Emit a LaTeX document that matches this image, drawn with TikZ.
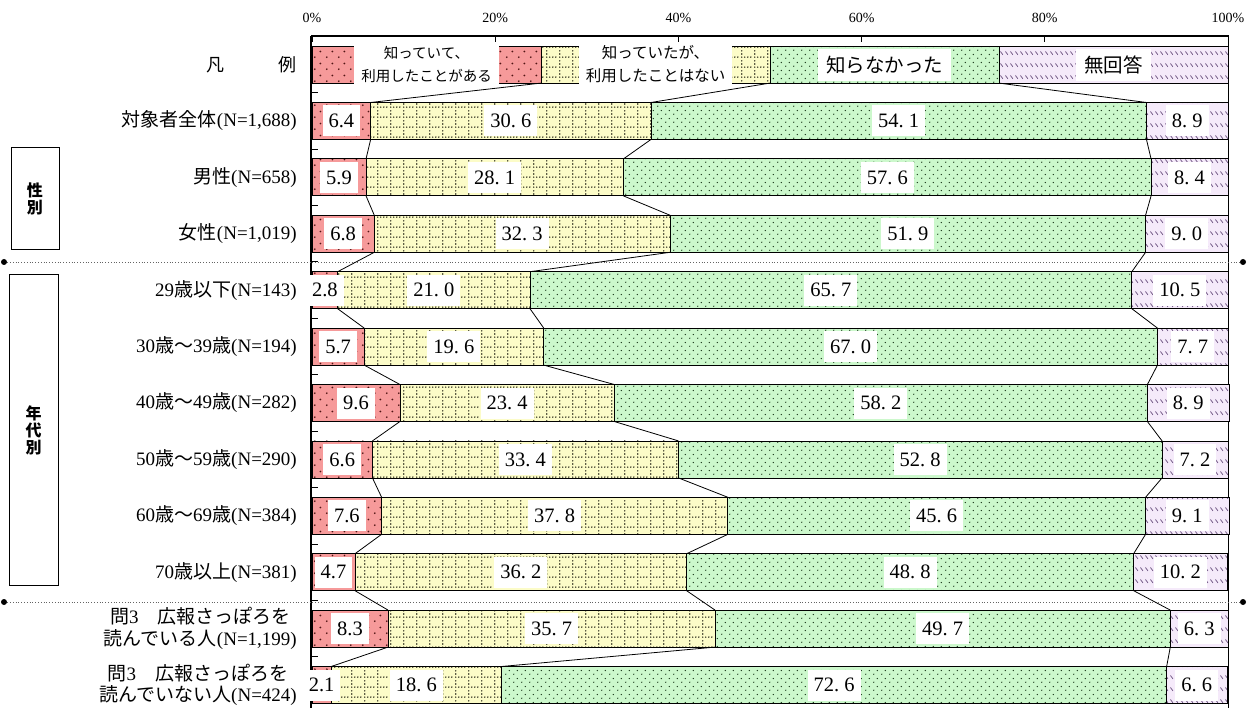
\documentclass[tikz,border=0pt]{standalone}
\usepackage{fontspec}
\setmainfont{Liberation Serif}
\newfontfamily\jp{Noto Sans CJK JP}
\usetikzlibrary{patterns.meta}

\definecolor{redfill}{RGB}{246,154,154}
\definecolor{reddot}{RGB}{80,20,20}
\definecolor{yelfill}{RGB}{252,252,200}
\definecolor{yeldot}{RGB}{35,35,20}
\definecolor{grnfill}{RGB}{204,248,204}
\definecolor{grndot}{RGB}{20,50,20}
\definecolor{lavfill}{RGB}{245,234,250}
\definecolor{lavline}{RGB}{110,85,130}
\definecolor{sepgray}{RGB}{100,100,100}

\tikzdeclarepattern{name=reddots,type=uncolored,
  bottom left={(0pt,0pt)},top right={(12pt,12pt)},tile size={(12pt,12pt)},
  code={\fill (3pt,3pt) circle (1pt); \fill (9pt,9pt) circle (1pt);}}
\tikzdeclarepattern{name=griddots,type=uncolored,
  bottom left={(0pt,0pt)},top right={(13pt,10pt)},tile size={(13pt,10pt)},
  code={\fill (0.8pt,1pt) circle (0.85pt); \fill (4.05pt,1pt) circle (0.85pt);
        \fill (7.3pt,1pt) circle (0.85pt); \fill (10.55pt,1pt) circle (0.85pt);
        \fill (0.8pt,4.33pt) circle (0.85pt); \fill (0.8pt,7.67pt) circle (0.85pt);}}
\tikzdeclarepattern{name=grndots,type=uncolored,
  bottom left={(0pt,0pt)},top right={(8pt,8pt)},tile size={(8pt,8pt)},
  code={\fill (2pt,2pt) circle (0.75pt); \fill (6pt,6pt) circle (0.75pt);}}
\tikzdeclarepattern{name=lavdash,type=uncolored,
  bottom left={(0pt,0pt)},top right={(5pt,12pt)},tile size={(5pt,12pt)},
  code={\draw[line width=0.85pt] (0.5pt,9pt) -- (3.5pt,5.5pt);}}

\newcommand\numgap[1]{\expandafter\numgapx#1\relax}
\def\numgapx#1.#2\relax{#1.\hspace{0.25em}#2}

\begin{document}
\begin{tikzpicture}[x=1pt,y=-1pt]
\tikzstyle{seg}=[draw,line width=0.8pt,inner sep=0pt,outer sep=0pt,minimum height=37pt,anchor=west]
\tikzstyle{redseg}=[seg,preaction={fill=redfill},pattern=reddots,pattern color=reddot]
\tikzstyle{yelseg}=[seg,preaction={fill=yelfill},pattern=griddots,pattern color=yeldot]
\tikzstyle{grnseg}=[seg,preaction={fill=grnfill},pattern=grndots,pattern color=grndot]
\tikzstyle{lavseg}=[seg,preaction={fill=lavfill},pattern=lavdash,pattern color=lavline]
\tikzstyle{num}=[fill=white,inner xsep=6pt,inner ysep=0pt,minimum height=31pt,font=\fontsize{20.5}{24}\selectfont]
\tikzstyle{rowlbl}=[anchor=east,align=center,inner sep=0pt,font=\fontsize{19}{21.5}\selectfont]
\tikzstyle{legtxt}=[fill=white,align=center,inner xsep=7pt,inner ysep=3pt,font=\jp\fontsize{14.5}{23}\selectfont]
\tikzstyle{legbig}=[fill=white,inner xsep=8pt,inner ysep=0pt,minimum height=32pt,font=\jp\fontsize{19.5}{22}\selectfont]
\tikzstyle{catbox}=[draw,line width=1pt,align=center,font=\jp\bfseries\fontsize{16}{17}\selectfont]
\tikzstyle{sepdot}=[circle,fill=black,inner sep=0pt,minimum size=6pt]
\tikzstyle{sepline}=[sepgray,line width=0.8pt,dotted]

\useasboundingbox (0,0) rectangle (1255,708);

% scale on top
\foreach \k in {0,...,5}
{
   \pgfmathtruncatemacro\p{20*\k}
   \path (312+183.2*\k,18) node[font=\fontsize{14}{16}\selectfont] (ax\k) {\p\%};
   \draw[line width=1pt] (312+183.2*\k,36) -- (312+183.2*\k,42);
}
\draw[line width=2pt] (311,36) -- (1229,36);
\draw[line width=2pt] (311,36) -- (311,708);
\draw[line width=1pt] (1228,36) -- (1228,708);
\foreach \k in {0,...,10}
{
   \draw[line width=1pt] (311,121+56.4*\k-28.2) -- (318,121+56.4*\k-28.2);
}

% separators
\path (4,262) node[sepdot] (s1l) {};
\path (1243,262) node[sepdot] (s1r) {};
\path (4,602) node[sepdot] (s2l) {};
\path (1243,602) node[sepdot] (s2r) {};
\draw[sepline] (s1l) -- (s1r);
\draw[sepline] (s2l) -- (s2r);

\path (35,199) node[catbox,minimum width=48pt,minimum height=102pt] (sex) {性\\別};
\path (33.5,430) node[catbox,minimum width=49pt,minimum height=310pt] (age) {年\\代\\別};

% legend
\path (312,64.6) node[redseg,minimum width=229pt] (b0-1) {};
\path (b0-1.east) node[yelseg,minimum width=229pt] (b0-2) {};
\path (b0-2.east) node[grnseg,minimum width=229pt] (b0-3) {};
\path (b0-3.east) node[lavseg,minimum width=229pt] (b0-4) {};
\path (297,64.6) node[rowlbl,font=\jp\fontsize{18}{21}\selectfont] (r0) {凡　　　例};

\foreach \i/\pa/\pb/\pc/\pd/\rlab in {
1/6.4/30.6/54.1/8.9/{{\jp 対象者全体}(N=1,688)},
2/5.9/28.1/57.6/8.4/{{\jp 男性}(N=658)},
3/6.8/32.3/51.9/9.0/{{\jp 女性}(N=1,019)},
4/2.8/21.0/65.7/10.5/{29{\jp 歳以下}(N=143)},
5/5.7/19.6/67.0/7.7/{30{\jp 歳～}39{\jp 歳}(N=194)},
6/9.6/23.4/58.2/8.9/{40{\jp 歳～}49{\jp 歳}(N=282)},
7/6.6/33.4/52.8/7.2/{50{\jp 歳～}59{\jp 歳}(N=290)},
8/7.6/37.8/45.6/9.1/{60{\jp 歳～}69{\jp 歳}(N=384)},
9/4.7/36.2/48.8/10.2/{70{\jp 歳以上}(N=381)},
10/8.3/35.7/49.7/6.3/{{\jp 問}3\hspace{1em}{\jp 広報さっぽろを}\\{\jp 読んでいる人}(N=1,199)},
11/2.1/18.6/72.6/6.6/{{\jp 問}3\hspace{1em}{\jp 広報さっぽろを}\\{\jp 読んでいない人}(N=424)}}
{
   \pgfmathsetmacro\y{121+56.4*(\i-1)}
   \pgfmathsetmacro\wred{9.16*\pa}
   \pgfmathsetmacro\wyel{9.16*\pb}
   \pgfmathsetmacro\wgrn{9.16*\pc}
   \pgfmathsetmacro\wlav{9.16*\pd}
   \path (312,\y) node[redseg,minimum width=\wred pt] (b\i-1) {};
   \path (b\i-1.east) node[yelseg,minimum width=\wyel pt] (b\i-2) {};
   \path (b\i-2.east) node[grnseg,minimum width=\wgrn pt] (b\i-3) {};
   \path (b\i-3.east) node[lavseg,minimum width=\wlav pt] (b\i-4) {};
   \path (b\i-1.center) node[num] (n\i-1) {\pa};
   \path (b\i-2.center) node[num] (n\i-2) {\numgap\pb};
   \path (b\i-3.center) node[num] (n\i-3) {\numgap\pc};
   \path (b\i-4.center) node[num] (n\i-4) {\numgap\pd};
   \path (297,\y) node[rowlbl] (r\i) {\rlab};
}

\foreach \i in {0,...,10}
{
   \pgfmathtruncatemacro\j{\i+1}
   \foreach \k in {1,2,3}
   {
      \draw[line width=0.8pt] (b\i-\k.south east) -- (b\j-\k.north east);
   }
}

\path (b0-1.center) node[legtxt] (l1) {知っていて、\\利用したことがある};
\path (b0-2.center) node[legtxt,font=\jp\fontsize{15.5}{23}\selectfont] (l2) {知っていたが、\\利用したことはない};
\path (b0-3.center) node[legbig] (l3) {知らなかった};
\path (b0-4.center) node[legbig] (l4) {無回答};
\end{tikzpicture}
\end{document}
